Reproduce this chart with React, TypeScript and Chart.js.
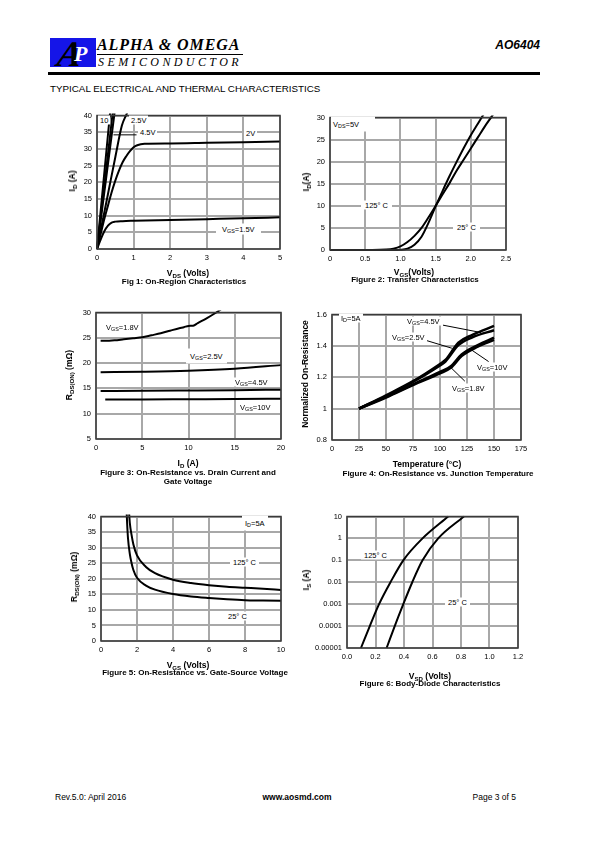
import React, { useEffect, useRef } from "react";
import { Chart, registerables } from "chart.js";
Chart.register(...registerables);

const FONT = "'Liberation Sans', Arial, sans-serif";
const SERIF = "'Liberation Serif', 'Times New Roman', serif";
const GRID = "#a8a8a8";
const FRAME = "#3a3a3a";

// ---------------- Figure 1: On-region characteristics (ID vs VDS)
const f1V10x = [0, 0.35, 0.4];
const f1V10y = [0, 40, 45.7];
const f1V45x = [0, 0.42, 0.46];
const f1V45y = [0, 40, 43.8];
const f1V3x = [0, 0.47, 0.5];
const f1V3y = [0, 40, 42.5];
const f1V25x = [0, 0.3, 0.5, 0.68, 0.8, 0.85];
const f1V25y = [0, 16.5, 27.5, 37, 40.2, 41.5];
const f1V2x = [0, 0.1, 0.2, 0.3, 0.4, 0.5, 0.6, 0.7, 0.8, 0.9, 1.0, 1.1, 1.3, 2, 3, 4, 5];
const f1V2y = [0, 4.5, 9, 13, 17, 20.5, 23.5, 26, 27.8, 29.3, 30.5, 31.1, 31.5, 31.6, 31.8, 32, 32.2];
const f1V15x = [0, 0.1, 0.2, 0.3, 0.4, 0.5, 0.7, 1, 2, 3, 4, 5];
const f1V15y = [0, 2.8, 5.3, 7, 7.9, 8.2, 8.35, 8.45, 8.7, 8.95, 9.2, 9.5];
const f1LeadX = [0.45, 1.08];
const f1LeadY = [34.2, 34.2];

// ---------------- Figure 2: Transfer characteristics (ID vs VGS)
const f2T25x = [0, 0.9, 1.0, 1.1, 1.2, 1.3, 1.4, 1.5, 1.6, 1.7, 1.8, 1.9, 2.0, 2.1, 2.2];
const f2T25y = [0, 0, 0.05, 0.3, 1.2, 3, 6.2, 9.9, 13.4, 16.8, 20, 23.1, 26, 28.6, 31.2];
const f2T125x = [0, 0.6, 0.8, 0.9, 1.0, 1.1, 1.2, 1.3, 1.4, 1.5, 1.6, 1.7, 1.8, 1.9, 2.0, 2.1, 2.2, 2.3, 2.35];
const f2T125y = [0, 0, 0.1, 0.3, 0.8, 1.8, 3.2, 5, 7.4, 9.95, 12.6, 15.2, 18, 20.5, 23, 25.5, 28, 30.3, 31.5];

// ---------------- Figure 3: RDS(ON) vs ID
const f3V18x = [0.5, 1, 2, 3, 4, 5, 6, 7, 8, 9, 9.5, 10, 10.5, 11, 12, 13, 13.5];
const f3V18y = [24.4, 24.4, 24.5, 24.7, 24.9, 25.1, 25.5, 25.9, 26.4, 26.9, 27.1, 27.35, 27.4, 27.9, 28.9, 30, 30.6];
const f3V25x = [0.5, 5, 10, 15, 20];
const f3V25y = [18.2, 18.3, 18.5, 18.9, 19.6];
const f3V45x = [0.5, 5, 10, 15, 20];
const f3V45y = [14.5, 14.52, 14.58, 14.65, 14.75];
const f3V10x = [1, 5, 10, 15, 20];
const f3V10y = [12.8, 12.82, 12.86, 12.9, 12.95];

// ---------------- Figure 4: Normalized RDS(ON) vs temperature
const f4Tx = [25, 50, 75, 100, 105, 117, 130, 150];
const f4V45y = [1, 1.085, 1.175, 1.285, 1.31, 1.42, 1.47, 1.527];
const f4V25y = [1, 1.08, 1.17, 1.275, 1.3, 1.405, 1.455, 1.5];
const f4Tlx = [25, 50, 75, 100, 110, 120, 135, 150];
const f4V10y = [1, 1.075, 1.155, 1.235, 1.27, 1.345, 1.405, 1.452];
const f4V18y = [1, 1.07, 1.15, 1.225, 1.26, 1.335, 1.395, 1.438];
const f4Lead45x = [102.8, 138];
const f4Lead45y = [1.532, 1.485];
const f4Lead25x = [88, 111];
const f4Lead25y = [1.433, 1.385];
const f4Lead10x = [145, 129];
const f4Lead10y = [1.3, 1.375];
const f4Lead18x = [123, 110];
const f4Lead18y = [1.175, 1.262];

// ---------------- Figure 5: RDS(ON) vs VGS
const f5T25x = [1.42, 1.45, 1.5, 1.6, 1.7, 1.8, 2, 2.5, 3, 4, 5, 6, 7, 8, 9, 10];
const f5T25y = [42, 38, 33, 28, 25, 22.8, 20.3, 17.8, 16.5, 15.1, 14.3, 13.8, 13.4, 13.1, 13, 12.9];
const f5T125x = [1.55, 1.6, 1.7, 1.8, 2, 2.5, 3, 4, 5, 6, 7, 8, 9, 10];
const f5T125y = [42, 38, 34, 31, 27.5, 23.8, 21.8, 19.7, 18.6, 17.9, 17.4, 17.1, 16.8, 16.4];

// ---------------- Figure 6: Body diode (IS vs VSD, log)
const f6T125x = [0.098, 0.16, 0.225, 0.305, 0.395, 0.53, 0.71];
const f6T25x = [0.278, 0.335, 0.395, 0.458, 0.53, 0.64, 0.82];
const f6Iy = [0.00001, 0.0001, 0.001, 0.01, 0.1, 1, 10];
const f6YTicks = [10, 1, 0.1, 0.01, 0.001, 0.0001, 0.00001];
const f6YLabels = ["10", "1", "0.1", "0.01", "0.001", "0.0001", "0.00001"];

const zip = (xs: number[], ys: number[]) => xs.map((x, i) => ({ x, y: ys[i] }));

const curve = (xs: number[], ys: number[], w = 2, smooth = true) => ({
  data: zip(xs, ys),
  borderColor: "#000",
  backgroundColor: "#000",
  borderWidth: w,
  pointRadius: 0,
  fill: false,
  tension: 0,
  cubicInterpolationMode: smooth ? "monotone" : "default",
  clip: 2,
});
const leader = (xs: number[], ys: number[]) => ({ ...curve(xs, ys, 1, false), clip: 0 });

const PADL = 36, PADT = 6, PADR = 12, PADB = 20;

const framePlugin = {
  id: "frame",
  afterDatasetsDraw(chart: any) {
    const { ctx, chartArea } = chart;
    ctx.save();
    ctx.strokeStyle = FRAME;
    ctx.lineWidth = 1.5;
    ctx.strokeRect(chartArea.left, chartArea.top, chartArea.right - chartArea.left, chartArea.bottom - chartArea.top);
    ctx.restore();
  },
};

type Area = { l: number; t: number; w: number; h: number };

function axis(o: any, horizontal: boolean) {
  const base: any = {
    type: o.type || "linear",
    position: horizontal ? "bottom" : "left",
    min: o.min,
    max: o.max,
    ticks: {
      color: "#000",
      font: { family: FONT, size: 7.5 },
      padding: horizontal ? 4 : 5,
      maxRotation: 0,
      autoSkip: false,
      includeBounds: true,
    },
    grid: { color: GRID, lineWidth: 2, drawTicks: false },
    border: { display: false },
    afterFit: (s: any) => {
      if (horizontal) s.height = PADB;
      else s.width = PADL;
    },
  };
  if (o.step !== undefined) base.ticks.stepSize = o.step;
  if (o.fmt) base.ticks.callback = o.fmt;
  if (o.fixedTicks) {
    base.afterBuildTicks = (s: any) => {
      s.ticks = o.fixedTicks.map((v: number) => ({ value: v }));
    };
  }
  return base;
}

function Plot({ area, datasets, x, y }: { area: Area; datasets: any[]; x: any; y: any }) {
  const ref = useRef<HTMLCanvasElement>(null);
  const W = area.w + PADL + PADR;
  const H = area.h + PADT + PADB;
  useEffect(() => {
    const chart = new Chart(ref.current as HTMLCanvasElement, {
      type: "line",
      data: { datasets },
      options: {
        responsive: false,
        animation: false,
        devicePixelRatio: 1,
        layout: { padding: { left: 0, top: PADT, right: PADR, bottom: 0 } },
        plugins: { legend: { display: false }, tooltip: { enabled: false } },
        scales: { x: axis(x, true), y: axis(y, false) },
      } as any,
      plugins: [framePlugin],
    });
    return () => chart.destroy();
  }, []);
  return (
    <canvas
      ref={ref}
      width={W}
      height={H}
      style={{ position: "absolute", left: area.l - PADL, top: area.t - PADT, width: W, height: H }}
    />
  );
}

const Sub = ({ children }: any) => (
  <sub style={{ fontSize: "0.72em", verticalAlign: "-0.3em", lineHeight: 0 }}>{children}</sub>
);

function Lbl({ x, y, children, pad = "0px 2px", size = 7.5 }: any) {
  return (
    <div
      style={{
        position: "absolute",
        left: x,
        top: y,
        transform: "translateY(-50%)",
        background: "#fff",
        padding: pad,
        font: `${size}px ${FONT}`,
        lineHeight: "9px",
        whiteSpace: "nowrap",
        color: "#000",
      }}
    >
      {children}
    </div>
  );
}

function Centered({ x, y, children, size = 8, bold = true }: any) {
  return (
    <div
      style={{
        position: "absolute",
        left: x,
        top: y,
        transform: "translate(-50%,-50%)",
        font: `${bold ? "bold " : ""}${size}px ${FONT}`,
        lineHeight: "10px",
        whiteSpace: "nowrap",
        color: "#000",
      }}
    >
      {children}
    </div>
  );
}

function YTitle({ x, y, children }: any) {
  return (
    <div
      style={{
        position: "absolute",
        left: x,
        top: y,
        transform: "translate(-50%,-50%) rotate(-90deg)",
        font: `bold 8.5px ${FONT}`,
        lineHeight: "10px",
        whiteSpace: "nowrap",
        color: "#000",
      }}
    >
      {children}
    </div>
  );
}

const fmt1 = (v: any) => Number(v).toFixed(1);
const fmtShort = (v: any) => String(Number(Number(v).toFixed(2)));

export default function App() {
  return (
    <div style={{ position: "absolute", left: 0, top: 0, width: 595, height: 842, background: "#fff", overflow: "hidden" }}>
      {/* Header */}
      <div style={{ position: "absolute", left: 50, top: 38, width: 46, height: 29, background: "#1515e8" }} />
      <div
        style={{
          position: "absolute",
          left: 58,
          top: 34,
          font: `italic bold 36px ${SERIF}`,
          color: "#000",
          lineHeight: "40px",
          transform: "skewX(-10deg)",
        }}
      >
        A
      </div>
      <div style={{ position: "absolute", left: 74, top: 42, font: `italic bold 22px ${SERIF}`, color: "#fff", lineHeight: "24px" }}>
        P
      </div>
      <div
        style={{
          position: "absolute",
          left: 97,
          top: 37,
          width: 146,
          font: `italic bold 16px ${SERIF}`,
          letterSpacing: "0.9px",
          lineHeight: "16px",
          borderBottom: "1.5px solid #000",
          paddingBottom: 1,
          color: "#000",
          whiteSpace: "nowrap",
        }}
      >
        ALPHA &amp; OMEGA
      </div>
      <div
        style={{
          position: "absolute",
          left: 98,
          top: 56,
          font: `italic 12px ${SERIF}`,
          letterSpacing: "3.4px",
          lineHeight: "12px",
          color: "#000",
          whiteSpace: "nowrap",
        }}
      >
        SEMICONDUCTOR
      </div>
      <div style={{ position: "absolute", left: 48, top: 72, width: 492, height: 2.5, background: "#000" }} />
      <div
        style={{
          position: "absolute",
          right: 595 - 540,
          top: 39,
          font: `italic bold 12px ${FONT}`,
          lineHeight: "13px",
          color: "#000",
        }}
      >
        AO6404
      </div>
      <div style={{ position: "absolute", left: 50, top: 84, font: `9.8px ${FONT}`, lineHeight: "10px", color: "#000" }}>
        TYPICAL ELECTRICAL AND THERMAL CHARACTERISTICS
      </div>

      {/* Figure 1 */}
      <Plot
        area={{ l: 97, t: 112, w: 183, h: 137 }}
        x={{ min: 0, max: 5, step: 1 }}
        y={{ min: 0, max: 40, step: 5 }}
        datasets={[
          curve(f1V10x, f1V10y, 2, false),
          curve(f1V45x, f1V45y, 2, false),
          curve(f1V3x, f1V3y, 2, false),
          curve(f1V25x, f1V25y),
          curve(f1V2x, f1V2y),
          curve(f1V15x, f1V15y),
          leader(f1LeadX, f1LeadY),
        ]}
      />
      <Lbl x={98} y={120}>10</Lbl>
      <Lbl x={129} y={120}>2.5V</Lbl>
      <Lbl x={138} y={132}>4.5V</Lbl>
      <Lbl x={244} y={133}>2V</Lbl>
      <Lbl x={216} y={229} pad="1px 6px">V<Sub>GS</Sub>=1.5V</Lbl>
      <YTitle x={72} y={181}>I<Sub>D</Sub> (A)</YTitle>
      <Centered x={188} y={273} size={8.5}>V<Sub>DS</Sub> (Volts)</Centered>
      <Centered x={184} y={282}>Fig 1: On-Region Characteristics</Centered>

      {/* Figure 2 */}
      <Plot
        area={{ l: 330, t: 114, w: 176, h: 136 }}
        x={{ min: 0, max: 2.5, step: 0.5 }}
        y={{ min: 0, max: 30, step: 5 }}
        datasets={[curve(f2T25x, f2T25y), curve(f2T125x, f2T125y)]}
      />
      <Lbl x={331} y={124} pad="3px 16px 3px 2px">V<Sub>DS</Sub>=5V</Lbl>
      <Lbl x={361} y={205} pad="0px 4px">125° C</Lbl>
      <Lbl x={453} y={227} pad="0px 4px">25° C</Lbl>
      <YTitle x={306} y={182}>I<Sub>D</Sub>(A)</YTitle>
      <Centered x={414} y={272} size={8.5}>V<Sub>GS</Sub>(Volts)</Centered>
      <Centered x={415} y={280}>Figure 2: Transfer Characteristics</Centered>

      {/* Figure 3 */}
      <Plot
        area={{ l: 96, t: 309, w: 185, h: 130 }}
        x={{ min: 0, max: 20, step: 5 }}
        y={{ min: 5, max: 30, step: 5 }}
        datasets={[curve(f3V18x, f3V18y), curve(f3V25x, f3V25y), curve(f3V45x, f3V45y), curve(f3V10x, f3V10y)]}
      />
      <Lbl x={104} y={327}>V<Sub>GS</Sub>=1.8V</Lbl>
      <Lbl x={186} y={356} pad="3px 4px">V<Sub>GS</Sub>=2.5V</Lbl>
      <Lbl x={233} y={382}>V<Sub>GS</Sub>=4.5V</Lbl>
      <Lbl x={238} y={407}>V<Sub>GS</Sub>=10V</Lbl>
      <YTitle x={69} y={375}>R<Sub>DS(ON)</Sub> (mΩ)</YTitle>
      <Centered x={188} y={463} size={8.5}>I<Sub>D</Sub> (A)</Centered>
      <Centered x={188} y={473}>Figure 3: On-Resistance vs. Drain Current and</Centered>
      <Centered x={188} y={482}>Gate Voltage</Centered>

      {/* Figure 4 */}
      <Plot
        area={{ l: 332, t: 311, w: 189, h: 129 }}
        x={{ min: 0, max: 175, step: 25 }}
        y={{ min: 0.8, max: 1.6, step: 0.2, fmt: fmtShort }}
        datasets={[
          curve(f4Tx, f4V45y, 2.5),
          curve(f4Tx, f4V25y, 2.5),
          curve(f4Tlx, f4V10y, 2.5),
          curve(f4Tlx, f4V18y, 2.5),
          leader(f4Lead45x, f4Lead45y),
          leader(f4Lead25x, f4Lead25y),
          leader(f4Lead10x, f4Lead10y),
          leader(f4Lead18x, f4Lead18y),
        ]}
      />
      <Lbl x={339} y={318}>I<Sub>D</Sub>=5A</Lbl>
      <Lbl x={406} y={321} pad="0px 1px">V<Sub>GS</Sub>=4.5V</Lbl>
      <Lbl x={391} y={337} pad="0px 1px">V<Sub>GS</Sub>=2.5V</Lbl>
      <Lbl x={476} y={367} pad="0px 1px">V<Sub>GS</Sub>=10V</Lbl>
      <Lbl x={451} y={388} pad="0px 1px">V<Sub>GS</Sub>=1.8V</Lbl>
      <YTitle x={305} y={374}>Normalized On-Resistance</YTitle>
      <Centered x={427} y={464} size={8.5}>Temperature (°C)</Centered>
      <Centered x={438} y={474}>Figure 4: On-Resistance vs. Junction Temperature</Centered>

      {/* Figure 5 */}
      <Plot
        area={{ l: 101, t: 513, w: 180, h: 128 }}
        x={{ min: 0, max: 10, step: 2 }}
        y={{ min: 0, max: 40, step: 5 }}
        datasets={[curve(f5T25x, f5T25y), curve(f5T125x, f5T125y)]}
      />
      <Lbl x={242} y={523} pad="3px 3px">I<Sub>D</Sub>=5A</Lbl>
      <Lbl x={230} y={562} pad="0px 3px">125° C</Lbl>
      <Lbl x={225} y={616} pad="0px 3px">25° C</Lbl>
      <YTitle x={74} y={577}>R<Sub>DS(ON)</Sub> (mΩ)</YTitle>
      <Centered x={188} y={665} size={8.5}>V<Sub>GS</Sub> (Volts)</Centered>
      <Centered x={195} y={673}>Figure 5: On-Resistance vs. Gate-Source Voltage</Centered>

      {/* Figure 6 */}
      <Plot
        area={{ l: 347, t: 513, w: 171, h: 135 }}
        x={{ min: 0, max: 1.2, step: 0.2, fmt: fmt1 }}
        y={{
          type: "logarithmic",
          min: 0.00001,
          max: 10,
          fixedTicks: f6YTicks,
          fmt: (_v: any, i: number) => f6YLabels[i],
        }}
        datasets={[curve(f6T125x, f6Iy), curve(f6T25x, f6Iy)]}
      />
      <Lbl x={361} y={555} pad="0px 3px">125° C</Lbl>
      <Lbl x={445} y={602} pad="0px 3px">25° C</Lbl>
      <YTitle x={306} y={580}>I<Sub>S</Sub> (A)</YTitle>
      <Centered x={430} y={676} size={8.5}>V<Sub>SD</Sub> (Volts)</Centered>
      <Centered x={430} y={684}>Figure 6: Body-Diode Characteristics</Centered>

      {/* Footer */}
      <div style={{ position: "absolute", left: 55, top: 792, font: `8.5px ${FONT}`, lineHeight: "10px" }}>Rev.5.0: April 2016</div>
      <Centered x={297} y={797} size={8.5}>www.aosmd.com</Centered>
      <div style={{ position: "absolute", right: 595 - 516, top: 792, font: `8.5px ${FONT}`, lineHeight: "10px" }}>Page 3 of 5</div>
    </div>
  );
}
